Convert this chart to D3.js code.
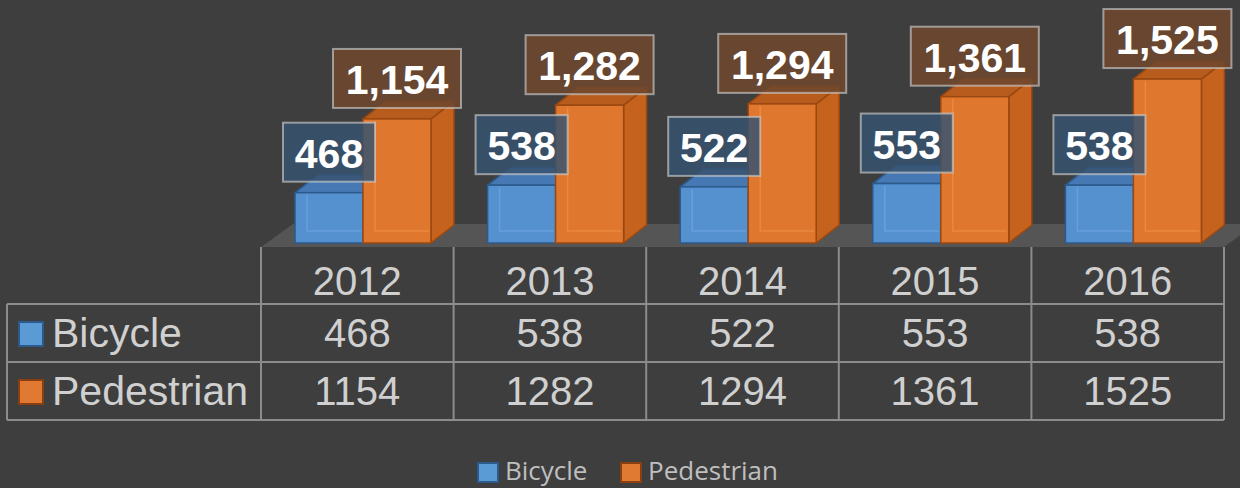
<!DOCTYPE html>
<html><head><meta charset="utf-8">
<script src="https://cdn.jsdelivr.net/npm/d3@7/dist/d3.min.js"></script>
<style>html,body{margin:0;padding:0;background:#3e3e3e;}svg{display:block;}</style>
</head><body><svg id="c" width="1240" height="488"></svg>
<script>
const years = ["2012", "2013", "2014", "2015", "2016"];
const seriesNames = ["Bicycle", "Pedestrian"];
const bicycle = [468, 538, 522, 553, 538];
const pedestrian = [1154, 1282, 1294, 1361, 1525];
const seriesValues = [bicycle, pedestrian];

const colors = {
  Bicycle: {front:"#5590cf", side:"#3f73ad", top:"#4679b3", stroke:"#2c5a8c", inner:"rgba(140,190,240,0.35)", label:"rgba(55,82,112,0.85)", legend:"#5b9bd5", legendStroke:"#2c5a8c"},
  Pedestrian: {front:"#e0772e", side:"#c4621e", top:"#b85c1d", stroke:"#9a4810", inner:"rgba(255,170,100,0.35)", label:"rgba(110,72,45,0.88)", legend:"#e07a32", legendStroke:"#8a3f10"}
};

const svg = d3.select("#c");
const W = 1240, H = 488;
svg.append("rect").attr("width", W).attr("height", H).attr("fill", "#3e3e3e");

const x = d3.scaleBand().domain(years).range([261, 1224]).paddingInner(0).paddingOuter(0);
const xs = d3.scaleBand().domain(seriesNames).range([34, 170]);
const y = d3.scaleLinear().domain([0, 1600]).range([243, 71]);
const DX = 23, DY = -18;

// floor
const fx0 = x.range()[0], fx1 = x.range()[1];
svg.append("path")
  .attr("d", `M${fx0},247 L${fx0+32},224 L${fx1+32},224 L${fx1},247 Z`)
  .attr("fill", "#555555");

// bars
const data = [];
years.forEach((yr, i) => seriesNames.forEach((s, j) => data.push({yr, s, v: seriesValues[j][i]})));

const g = svg.append("g");
seriesNames.forEach(s => {
  data.filter(d => d.s === s).forEach(d => {
    const c = colors[d.s];
    const x0 = x(d.yr) + xs(d.s), w = xs.bandwidth();
    const y0 = y(d.v), y1 = y(0);
    const bg = g.append("g");
    bg.append("path").attr("d", `M${x0+w},${y0} L${x0+w+DX},${y0+DY} L${x0+w+DX},${y1+DY} L${x0+w},${y1} Z`)
      .attr("fill", c.side).attr("stroke", c.stroke).attr("stroke-width", 1.5).attr("stroke-linejoin","round");
    bg.append("path").attr("d", `M${x0},${y0} L${x0+DX},${y0+DY} L${x0+w+DX},${y0+DY} L${x0+w},${y0} Z`)
      .attr("fill", c.top).attr("stroke", c.stroke).attr("stroke-width", 1.5).attr("stroke-linejoin","round");
    bg.append("rect").attr("x", x0).attr("y", y0).attr("width", w).attr("height", y1 - y0)
      .attr("fill", c.front).attr("stroke", c.stroke).attr("stroke-width", 1.5);
    bg.append("path").attr("d", `M${x0+12},${y0+2} L${x0+12},${y1-12} L${x0+w-2},${y1-12}`)
      .attr("fill", "none").attr("stroke", c.inner).attr("stroke-width", 1.5);
  });
});

// data labels
const fmt = d3.format(",");
const lg = svg.append("g");
data.forEach(d => {
  const c = colors[d.s];
  const cx = x(d.yr) + xs(d.s) + xs.bandwidth() / 2;
  const bottom = y(d.v) - 11;
  const txt = fmt(d.v);
  const bw = d.s === "Bicycle" ? 92 : 128;
  lg.append("rect").attr("x", cx - bw/2).attr("y", bottom - 59).attr("width", bw).attr("height", 59)
    .attr("fill", c.label).attr("stroke", "rgba(205,205,205,0.65)").attr("stroke-width", 2);
  lg.append("text").attr("x", cx).attr("y", bottom - 14).attr("text-anchor", "middle")
    .attr("font-family", "Liberation Sans, Arial, sans-serif").attr("font-weight", "bold")
    .attr("font-size", 41).attr("fill", "#ffffff").text(txt);
});

// data table
const rowY = [247, 304, 362, 420];
const tg = svg.append("g");
const lineC = "#8c8c8c";
const colEdges = years.map(yr => x(yr)).concat([x.range()[1]]);
colEdges.forEach(cx => {
  tg.append("line").attr("x1", cx).attr("x2", cx).attr("y1", rowY[0]).attr("y2", rowY[3])
    .attr("stroke", lineC).attr("stroke-width", 2);
});
tg.append("line").attr("x1", 7).attr("x2", 7).attr("y1", rowY[1]).attr("y2", rowY[3]).attr("stroke", lineC).attr("stroke-width", 2);
[1, 2, 3].forEach(r => {
  tg.append("line").attr("x1", 7).attr("x2", x.range()[1]).attr("y1", rowY[r]).attr("y2", rowY[r])
    .attr("stroke", lineC).attr("stroke-width", 2);
});
const tFont = "Liberation Sans, Arial, sans-serif";
years.forEach(yr => {
  tg.append("text").attr("x", x(yr) + x.bandwidth()/2).attr("y", 295).attr("text-anchor", "middle")
    .attr("font-family", tFont).attr("font-size", 40).attr("fill", "#d0d0d0").text(yr);
});
const rowBase = [347, 405];
seriesNames.forEach((s, j) => {
  const c = colors[s];
  const sqTop = rowBase[j] - 25;
  tg.append("rect").attr("x", 19).attr("y", sqTop).attr("width", 24).attr("height", 24)
    .attr("fill", c.legend).attr("stroke", c.legendStroke).attr("stroke-width", 2);
  tg.append("text").attr("x", 52).attr("y", rowBase[j]).attr("font-family", tFont).attr("font-size", 41)
    .attr("fill", "#d0d0d0").text(s);
  years.forEach((yr, i) => {
    tg.append("text").attr("x", x(yr) + x.bandwidth()/2).attr("y", rowBase[j]).attr("text-anchor", "middle")
      .attr("font-family", tFont).attr("font-size", 40).attr("fill", "#d0d0d0").text(seriesValues[j][i]);
  });
});

// bottom legend
const leg = svg.append("g");
const legX = [478, 621];
seriesNames.forEach((s, j) => {
  const c = colors[s];
  leg.append("rect").attr("x", legX[j]).attr("y", 463).attr("width", 20).attr("height", 19)
    .attr("fill", c.legend).attr("stroke", c.legendStroke).attr("stroke-width", 2);
  leg.append("text").attr("x", legX[j] + 27).attr("y", 480).attr("font-family", "Open Sans, sans-serif")
    .attr("font-size", 26).attr("fill", "#bfbfbf").text(s);
});
</script></body></html>
